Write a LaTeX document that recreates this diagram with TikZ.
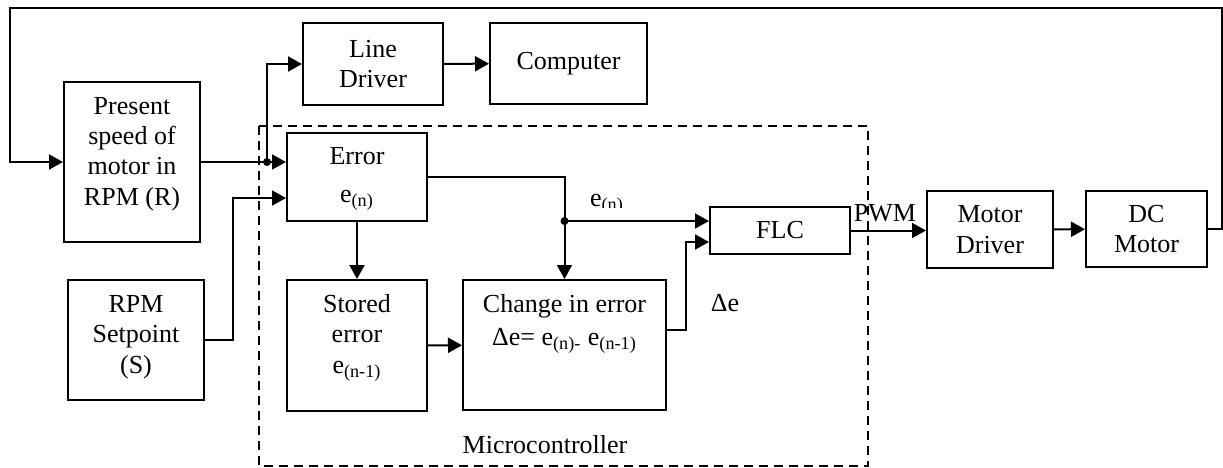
\documentclass[tikz,border=0pt]{standalone}
\usepackage{fontspec}
\setmainfont{Liberation Serif}
\usetikzlibrary{arrows.meta,calc}
\begin{document}
\begin{tikzpicture}[x=0.5pt,y=-0.5pt,
  every node/.style={font=\fontsize{13}{15.2}\selectfont},
  box/.style={draw,line width=1pt,inner sep=0pt,align=center},
  txt/.style={inner sep=0pt,align=center},
  wire/.style={line width=1pt},
  conn/.style={line width=1pt,-{Triangle[length=7pt,width=7.5pt]}},
  dot/.style={circle,fill,inner sep=0pt,minimum size=4pt},
  mcu/.style={line width=0.8pt,dash pattern=on 4.5pt off 3pt}]
\useasboundingbox (0,0) rectangle (1223,467);

% microcontroller region
\draw[mcu] (259,126) rectangle (868,466);

% boxes
\node[box,minimum width=68pt,minimum height=80pt] (present) at (132,162) {};
\node[txt] (presentt) at (132,154) {Present\\speed of\\motor in\\RPM (R)};
\node[box,minimum width=70pt,minimum height=41pt] (linedrv) at (373,64) {Line\\Driver};
\node[box,minimum width=78.5pt,minimum height=40.5pt] (computer) at (568.5,63.5) {Computer};
\node[box,minimum width=70pt,minimum height=44pt] (error) at (357,177) {};
\node[txt] (errort) at (357,179) {Error\\[4pt]e\textsubscript{(n)}};
\node[box,minimum width=68pt,minimum height=60pt] (setpoint) at (136,340) {};
\node[txt] (setpointt) at (136,337) {RPM\\Setpoint\\(S)};
\node[box,minimum width=70pt,minimum height=65.5pt] (stored) at (357,345.5) {};
\node[txt] (storedt) at (357,338) {Stored\\error\\e\textsubscript{(n-1)}};
\node[box,minimum width=101.5pt,minimum height=65pt] (change) at (564.5,345) {};
\node[txt] (changet) at (564.5,324) {Change in error\\[1pt]Δe= e\textsubscript{(n)-} e\textsubscript{(n-1)}};
\node[box,minimum width=70pt,minimum height=23.5pt] (flc) at (780,230.5) {FLC};
\node[box,minimum width=63pt,minimum height=38.5pt] (motordrv) at (990,229.5) {Motor\\Driver};
\node[box,minimum width=60.5pt,minimum height=38pt] (dcmotor) at (1146.5,229) {DC\\Motor};

% labels
\node[txt] (mculbl) at (545,445) {Microcontroller};
\node[txt] (pwm) at (885,213) {PWM};
\node[txt] (delta) at (725,303) {Δe};
\begin{scope}
  \clip (580,180) rectangle (640,207);
  \node[txt] (enlbl) at (607,204) {e\textsubscript{(n)}};
\end{scope}

% coordinates
\coordinate (fbTR) at (1222,8);
\coordinate (fbTL) at (9.5,8);
\coordinate (jn) at (267,162);
\coordinate (spx) at (233,198);
\coordinate (jn2) at (564.5,221);
\coordinate (db) at (686,242);

% connectors
\draw[conn] (dcmotor.east) -| (fbTR) -- (fbTL) |- (present.west);
\draw[conn] (present.east) -- (present.east -| error.west);
\draw[conn] (jn) |- (linedrv.west);
\draw[conn] (setpoint.east) -| (spx) -- (spx -| error.west);
\draw[conn] (linedrv) -- (computer);
\draw[conn] (error.east) -| (change.north);
\draw[conn] (jn2) -- (jn2 -| flc.west);
\draw[conn] (error) -- (stored);
\draw[conn] (stored) -- (change);
\draw[conn] ($(change.east)+(0,-15)$) -| (db) -- (db -| flc.west);
\draw[conn] (flc.east) -- (flc.east -| motordrv.west);
\draw[conn] (motordrv) -- (dcmotor);
\node[dot] (dot1) at (jn) {};
\node[dot] (dot2) at (jn2) {};
\end{tikzpicture}
\end{document}
